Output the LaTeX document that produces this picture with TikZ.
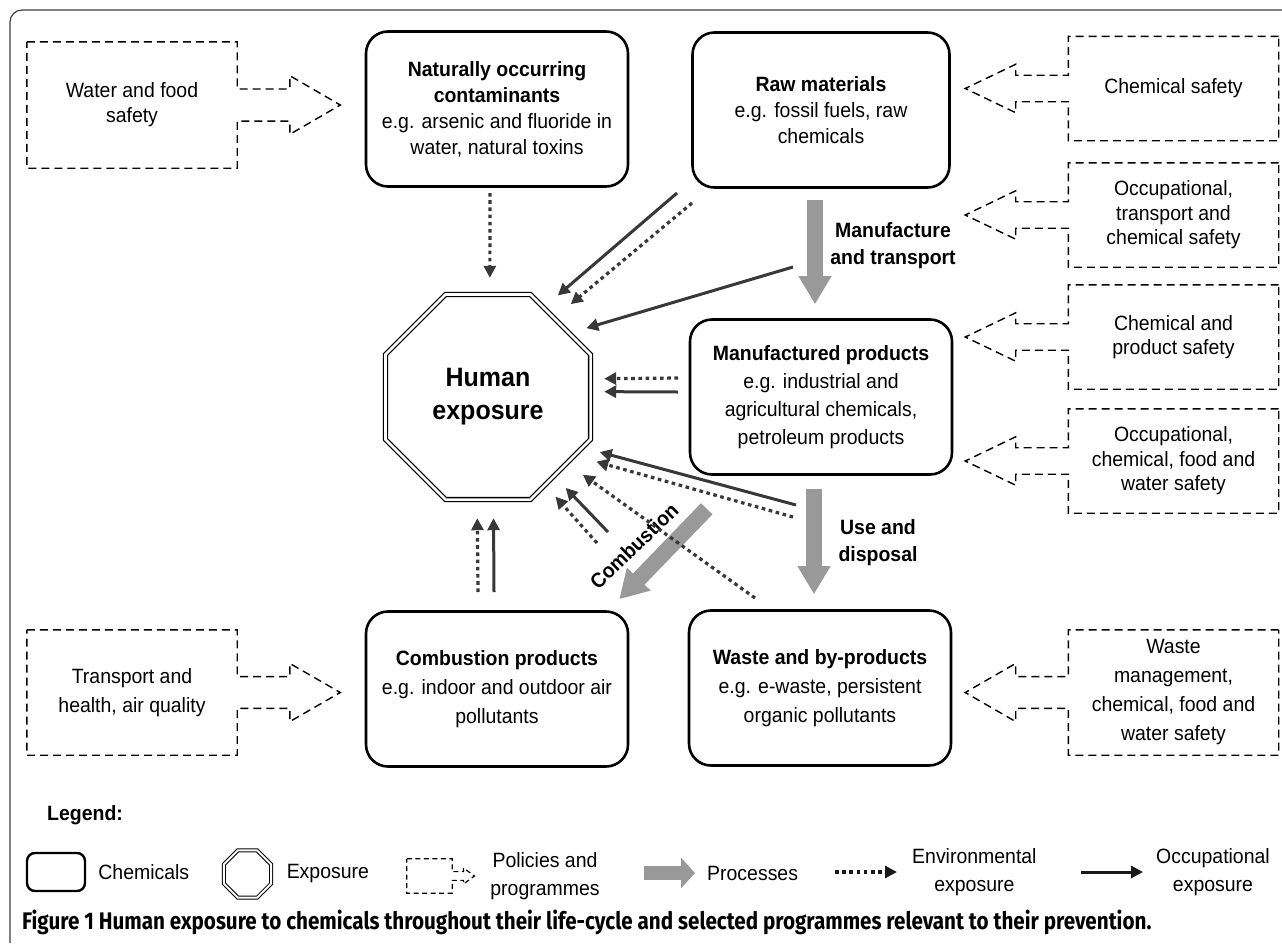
\documentclass[tikz,border=0pt]{standalone}
\usepackage{fontspec}
\setmainfont{Liberation Sans}[FakeStretch=0.94]
\newfontfamily\capfont[FakeStretch=0.86]{Fira Sans}
\usepackage{tikz}
\usetikzlibrary{positioning, shapes.geometric, arrows.meta, calc}
\newcommand{\diafont}[1]{\fontsize{20.7}{#1}\selectfont}

\tikzset{
  chem/.style={draw, line width=2.6pt, rounded corners=22pt, minimum width=262pt,
    minimum height=155pt, align=center, inner sep=0pt, font={\diafont{26}}},
  pol/.style={minimum width=210pt, minimum height=104pt, align=center, inner sep=0pt,
    font={\diafont{24.5}}},
  polline/.style={line width=1.4pt, dash pattern=on 8pt off 5pt},
  polsmall/.style={line width=1.2pt, dash pattern=on 5pt off 3.5pt},
  expo/.style={regular polygon, regular polygon sides=8, draw, double,
    double distance=2.6pt, line width=1.3pt, inner sep=0pt},
  proc/.style={draw=black!40, line width=16pt, -{Triangle[length=28pt,width=31pt]}},
  env/.style={draw=black!78, line width=3.2pt, dash pattern=on 3.6pt off 3.6pt,
    -{Triangle[length=12pt,width=12pt]}},
  occ/.style={draw=black!78, line width=3pt, -{Triangle[length=12pt,width=12pt]}},
  lbl/.style={align=center, inner sep=0pt, font={\diafont{27}\bfseries}},
  lgt/.style={align=center, inner sep=0pt, font={\diafont{28}}},
}

\begin{document}
\begin{tikzpicture}[x=1pt,y=-1pt]
    \fill[white] (0,0) rectangle (1282,943);
    \useasboundingbox (0,0) rectangle (1282,943);
    % 外枠
    \draw[line width=1.2pt, black!75, rounded corners=12pt] (10,943) -- (10,10) -- (1282,10);

    % 化学物質の箱
    \node[chem] (nat) at (497,109) {\textbf{Naturally occurring}\\\textbf{contaminants}\\e.g. arsenic and fluoride in\\water, natural toxins};
    \node[chem, minimum width=257pt] (raw) at (821,110) {\textbf{Raw materials}\\e.g. fossil fuels, raw\\chemicals};
    \node[chem, font={\diafont{28}}] (manu) at (821,397) {\textbf{Manufactured products}\\e.g. industrial and\\agricultural chemicals,\\petroleum products};
    \node[chem, font={\diafont{29}}] (comb) at (497,689) {\textbf{Combustion products}\\e.g. indoor and outdoor air\\pollutants};
    \node[chem, font={\diafont{29}}] (waste) at (820,688) {\textbf{Waste and by-products}\\e.g. e-waste, persistent\\organic pollutants};

    % 曝露
    \node[expo, minimum size=222pt, align=center, font={\fontsize{26.6}{33}\selectfont\bfseries}] (hx) at (488,397) {Human\\exposure};

    % 政策の箱
    \node[pol, minimum height=126pt, font={\diafont{25}}] (wf) at (132,105) {Water and food\\safety};
    \node[pol, minimum height=125pt, font={\diafont{29}}] (th) at (132,692.5) {Transport and\\health, air quality};
    \node[pol] (cs) at (1173.5,88.5) {Chemical safety};
    \node[pol] (ot) at (1173.5,215) {Occupational,\\transport and\\chemical safety};
    \node[pol] (cp) at (1173.5,337) {Chemical and\\product safety};
    \node[pol] (oc) at (1173.5,461) {Occupational,\\chemical, food and\\water safety};
    \node[pol, minimum height=125pt, font={\diafont{29}}] (wm) at (1173.5,692.5) {Waste\\management,\\chemical, food and\\water safety};

    % 凡例
    \node[anchor=west, inner sep=0pt, font={\diafont{26}\bfseries}] (leg) at (47,815) {Legend:};
    \node[draw, line width=2.4pt, rounded corners=8pt, minimum width=58pt, minimum height=38pt] (lchem) at (56,872) {};
    \node[lgt, right=12pt of lchem] (lchemt) {Chemicals};
    \node[expo, minimum size=51pt, line width=1pt, double distance=2pt] (lexpo) at (247.5,874) {};
    \node[lgt, right=15pt of lexpo] (lexpot) {Exposure};
    \node[minimum width=45pt, minimum height=34pt, inner sep=0pt] (lpol) at (429.5,876) {};
    \node[lgt, right=38pt of lpol] (lpolt) {Policies and\\programmes};
    \coordinate (lp1) at (644,873);
    \coordinate (lp2) at (695,873);
    \draw[proc, line width=14pt, -{Triangle[length=14pt,width=30pt]}] (lp1) -- (lp2);
    \node[lgt, right=12pt of lp2] (lpt) {Processes};
    \coordinate (le1) at (835,872);
    \coordinate (le2) at (897,872);
    \draw[env, draw=black!90] (le1) -- (le2);
    \node[lgt, right=15pt of le2] (let) {Environmental\\exposure};
    \coordinate (lo1) at (1081,872);
    \coordinate (lo2) at (1143,872);
    \draw[occ, draw=black!90] (lo1) -- (lo2);
    \node[lgt, right=13pt of lo2] (lot) {Occupational\\exposure};

    % 政策の矢印形の枠
    \foreach \nd/\a/\b/\s/\sty in {wf/west/east/1/polline, th/west/east/1/polline,
        cs/east/west/-1/polline, ot/east/west/-1/polline, cp/east/west/-1/polline,
        oc/east/west/-1/polline, wm/east/west/-1/polline, lpol/west/east/1/polsmall} {
        \draw[\sty] let \p1=(\nd.north \a), \p2=(\nd.south \b), \p3=(\nd.center),
            \n1={\y1-\y2}, \n2={abs(\x2-\x1)} in
            (\x1,\y1) -- (\x2,\y1) -- (\x2,{\y3+0.127*\n1})
            -- ({\x2+(\s)*0.25*\n2},{\y3+0.127*\n1}) -- ({\x2+(\s)*0.25*\n2},{\y3+0.232*\n1})
            -- ({\x2+(\s)*0.49*\n2},\y3)
            -- ({\x2+(\s)*0.25*\n2},{\y3-0.232*\n1}) -- ({\x2+(\s)*0.25*\n2},{\y3-0.127*\n1})
            -- (\x2,{\y3-0.127*\n1}) -- (\x2,\y2) -- (\x1,\y2) -- cycle;
    }

    % 工程（灰色の矢印）
    \draw[proc, shorten <=11pt, shorten >=14pt] ([xshift=-6pt]raw.south) -- ([xshift=-6pt]manu.north);
    \draw[proc, shorten <=13pt, shorten >=15pt] ([xshift=-7pt]manu.south) -- ([xshift=-6pt]waste.north);
    \draw[proc] ([shift={(18,33)}]manu.south west) -- ([shift={(-10,-11)}]comb.north east);
    \node[lbl] (mtlab) at (893,246) {Manufacture\\and transport};
    \node[lbl] (udlab) at (878,543) {Use and\\disposal};
    \node[lbl, rotate=44] (cblab) at (634,546) {Combustion};

    % 曝露の矢印
    \coordinate (e1) at (490,193);
    \coordinate (e3) at (692,203);
    \coordinate (e5) at (678,378);
    \coordinate (e8) at (793,517);
    \coordinate (e9) at (755,598);
    \coordinate (e11) at (597,543);
    \coordinate (e12) at (478,592);
    \coordinate (o2) at (677,193);
    \coordinate (o4) at (793,267);
    \coordinate (o6) at (678,392);
    \coordinate (o7) at (796,505);
    \coordinate (o10) at (608,532);
    \coordinate (o13) at (494,592);
    \foreach \st/\a/\g in {e1/89/16pt, e3/50/21pt, e5/10/13pt, e8/-34/22pt,
        e9/-40/19pt, e11/-57/15pt, e12/-96/18pt} {
        \draw[env, shorten >=\g] (\st) -- (hx.\a);
    }
    \foreach \st/\a/\g in {o2/58/18pt, o4/38/17pt, o6/3/13pt, o7/-28/17pt,
        o10/-50/16pt, o13/-87/18pt} {
        \draw[occ, shorten >=\g] (\st) -- (hx.\a);
    }

    % キャプション
    \node[anchor=west, inner sep=0pt, font={\capfont\fontsize{24}{28}\selectfont\bfseries}] (cap) at (22,922) {Figure 1 Human exposure to chemicals throughout their life-cycle and selected programmes relevant to their prevention.};
\end{tikzpicture}
\end{document}
